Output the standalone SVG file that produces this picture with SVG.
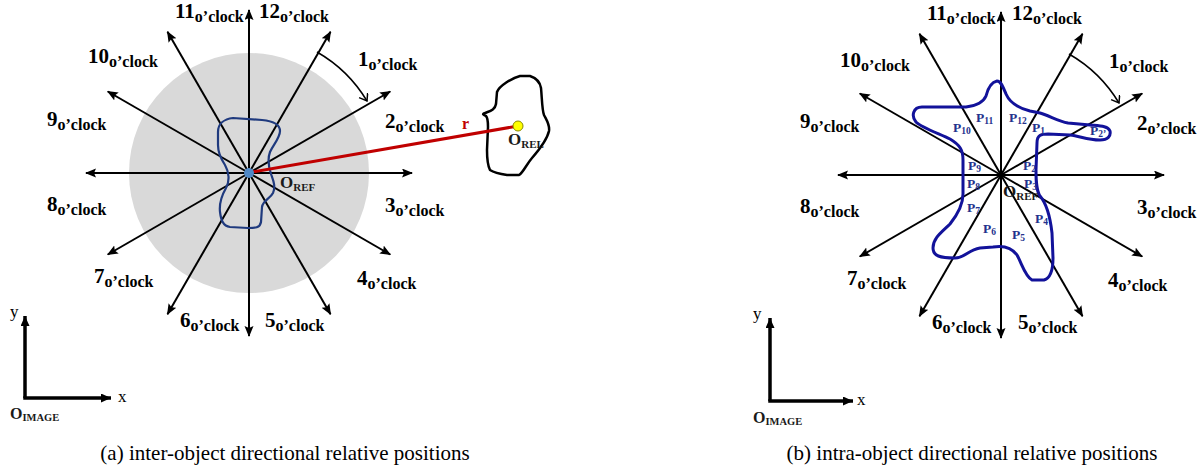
<svg xmlns="http://www.w3.org/2000/svg" width="1202" height="469" viewBox="0 0 1202 469">
<style>
.bg{fill:#ffffff}
.ray{stroke:#000;stroke-width:2;fill:none;marker-end:url(#ah)}
.arc{stroke:#000;stroke-width:1.5;fill:none;marker-end:url(#va)}
.axis{stroke:#000;stroke-width:3.5;fill:none;marker-end:url(#ax)}
.lbl{font-family:"Liberation Serif","Times New Roman",serif;font-weight:bold;fill:#000}
.n{font-size:21px}
.s{font-size:16px}
.pl{font-family:"Liberation Serif","Times New Roman",serif;font-weight:bold;fill:#24318c;font-size:13.5px}
.ps{font-size:9.5px}
.o{font-family:"Liberation Serif","Times New Roman",serif;font-weight:bold;fill:#1a1a1a}
.ob{font-size:17px}
.osub{font-size:11px}
.oi{font-size:16px}
.oisub{font-size:10.5px}
.ax{font-family:"Liberation Serif","Times New Roman",serif;font-size:17px;fill:#000}
.cap{font-family:"Liberation Serif","Times New Roman",serif;font-size:21px;fill:#000;text-anchor:middle}
</style>
<defs>
<marker id="ah" markerUnits="userSpaceOnUse" markerWidth="12" markerHeight="10" refX="10" refY="4.5" orient="auto"><path d="M0,0 L11,4.5 L0,9 L2,4.5 Z" fill="#000"/></marker>
<marker id="ax" markerUnits="userSpaceOnUse" markerWidth="12" markerHeight="10" refX="10" refY="4.5" orient="auto"><path d="M0,0 L10,4.5 L0,9 Z" fill="#000"/></marker>
<marker id="va" markerUnits="userSpaceOnUse" markerWidth="12" markerHeight="12" refX="7" refY="5" orient="auto"><path d="M0,0 L7,5 L0,10" fill="none" stroke="#000" stroke-width="1.5"/></marker>
</defs>
<rect class="bg" x="0" y="0" width="1202" height="469"/>

<!-- ===== Panel (a) ===== -->
<g id="panel-a-circle"><circle cx="249" cy="173" r="120" fill="#d9d9d9"/></g>
<g id="panel-a-connectors" transform="translate(249,173)">
<line class="ray" x1="0" y1="0" x2="0" y2="-163"/>
<line class="ray" x1="0" y1="0" x2="81.5" y2="-141.2"/>
<line class="ray" x1="0" y1="0" x2="141.2" y2="-81.5"/>
<line class="ray" x1="0" y1="0" x2="163" y2="0"/>
<line class="ray" x1="0" y1="0" x2="141.2" y2="81.5"/>
<line class="ray" x1="0" y1="0" x2="81.5" y2="141.2"/>
<line class="ray" x1="0" y1="0" x2="0" y2="163"/>
<line class="ray" x1="0" y1="0" x2="-81.5" y2="141.2"/>
<line class="ray" x1="0" y1="0" x2="-141.2" y2="81.5"/>
<line class="ray" x1="0" y1="0" x2="-163" y2="0"/>
<line class="ray" x1="0" y1="0" x2="-141.2" y2="-81.5"/>
<line class="ray" x1="0" y1="0" x2="-81.5" y2="-141.2"/>
</g>
<g id="panel-a-arc"><path class="arc" d="M317,52 A139,139 0 0,1 367,101"/></g>
<g id="panel-a-ref-object">
<path d="M218,132 C218,124 224,119 233,118 L262,120 C272,121 280,124 280,131 C280,138 273,145 270,152 C267,160 269,168 271,174 C273,180 276,186 273,193 C270,199 263,200 262,207 L261,222 C260,228 255,228 248,228 L230,227 C223,226 221,220 220,212 C219,203 222,195 226,188 C230,181 229,172 225,165 C221,159 218,152 218,145 Z" fill="none" stroke="#1f3a7e" stroke-width="2.2"/>
</g>
<g id="panel-a-rel-object">
<path d="M497,92 C499,86 512,78 520,76 L530,76 C536,78 540,82 541,88 C542,98 542,110 544,115 C547,121 550,125 549,131 C547,140 539,150 532,158 C526,165 523,173 519,175 L507,175 C500,174 493,172 490,170 C487,164 487,158 487,150 L488,127 C488,122 488,118 486,116 C483,115 482,114 485,113 C490,111 495,110 496,104 Z" fill="none" stroke="#000" stroke-width="2.5"/>
</g>
<g id="panel-a-r">
<line x1="252" y1="172" x2="518" y2="126" stroke="#c00000" stroke-width="3"/>
<text x="462" y="129" class="lbl" font-size="16" style="fill:#c00000">r</text>
</g>
<g id="panel-a-oref">
<circle cx="249" cy="173" r="5" fill="#4f88c6"/>
<text x="280" y="188" class="o"><tspan class="ob">O</tspan><tspan class="osub" dy="3">REF</tspan></text>
</g>
<g id="panel-a-orel">
<circle cx="518" cy="126" r="5" fill="#ffff00" stroke="#8a8a00" stroke-width="1"/>
<text x="508" y="145" class="o"><tspan class="ob">O</tspan><tspan class="osub" dy="3">REL</tspan></text>
</g>
<g id="panel-a-labels">
<text class="lbl" x="175" y="18"><tspan class="n">11</tspan><tspan class="s" dy="4">o’clock</tspan></text>
<text class="lbl" x="259" y="18"><tspan class="n">12</tspan><tspan class="s" dy="4">o’clock</tspan></text>
<text class="lbl" x="88" y="63"><tspan class="n">10</tspan><tspan class="s" dy="4">o’clock</tspan></text>
<text class="lbl" x="358" y="66"><tspan class="n">1</tspan><tspan class="s" dy="4">o’clock</tspan></text>
<text class="lbl" x="47" y="126"><tspan class="n">9</tspan><tspan class="s" dy="4">o’clock</tspan></text>
<text class="lbl" x="385" y="128"><tspan class="n">2</tspan><tspan class="s" dy="4">o’clock</tspan></text>
<text class="lbl" x="47" y="211"><tspan class="n">8</tspan><tspan class="s" dy="4">o’clock</tspan></text>
<text class="lbl" x="385" y="212"><tspan class="n">3</tspan><tspan class="s" dy="4">o’clock</tspan></text>
<text class="lbl" x="94" y="283"><tspan class="n">7</tspan><tspan class="s" dy="4">o’clock</tspan></text>
<text class="lbl" x="357" y="285"><tspan class="n">4</tspan><tspan class="s" dy="4">o’clock</tspan></text>
<text class="lbl" x="180" y="327"><tspan class="n">6</tspan><tspan class="s" dy="4">o’clock</tspan></text>
<text class="lbl" x="265" y="327"><tspan class="n">5</tspan><tspan class="s" dy="4">o’clock</tspan></text>
</g>
<g id="panel-a-axes">
<path class="axis" d="M25,398 L25,316"/>
<path class="axis" d="M23.25,398 L111,398"/>
<text class="ax" x="10" y="317">y</text>
<text class="ax" x="118" y="402">x</text>
<text class="o" x="10" y="419"><tspan class="oi">O</tspan><tspan class="oisub" dy="2">IMAGE</tspan></text>
</g>
<g id="caption-a"><text class="cap" x="285" y="460">(a) inter-object directional relative positions</text></g>

<!-- ===== Panel (b) ===== -->
<g id="panel-b-connectors" transform="translate(1001,175)">
<line class="ray" x1="0" y1="0" x2="0" y2="-163"/>
<line class="ray" x1="0" y1="0" x2="81.5" y2="-141.2"/>
<line class="ray" x1="0" y1="0" x2="141.2" y2="-81.5"/>
<line class="ray" x1="0" y1="0" x2="163" y2="0"/>
<line class="ray" x1="0" y1="0" x2="141.2" y2="81.5"/>
<line class="ray" x1="0" y1="0" x2="81.5" y2="141.2"/>
<line class="ray" x1="0" y1="0" x2="0" y2="163"/>
<line class="ray" x1="0" y1="0" x2="-81.5" y2="141.2"/>
<line class="ray" x1="0" y1="0" x2="-141.2" y2="81.5"/>
<line class="ray" x1="0" y1="0" x2="-163" y2="0"/>
<line class="ray" x1="0" y1="0" x2="-141.2" y2="-81.5"/>
<line class="ray" x1="0" y1="0" x2="-81.5" y2="-141.2"/>
</g>
<g id="panel-b-arc"><path class="arc" d="M1069,54 A139,139 0 0,1 1119,103"/></g>
<g id="panel-b-object">
<path d="M997,81 C992,82 988,88 986,96 C983,103 975,106 966,107 L922,107 C913,107 911,116 916,122 C922,128 940,134 950,139 C960,145 963,150 963,160 L963,194 C963,205 958,214 950,224 C942,232 933,238 933,248 C933,256 940,258 955,258 C965,258 968,250 980,248 L993,247 C1005,245 1012,248 1017,255 C1022,264 1025,276 1032,280 L1044,280 C1051,278 1053,270 1053,258 L1052,233 C1050,215 1046,203 1040,196 C1036,190 1036,180 1036,170 L1037,143 C1037,135 1041,134 1048,134 L1070,135 C1080,136 1087,140 1100,140 C1108,140 1111,136 1110,131 C1108,126 1100,126 1090,125 L1068,123 C1058,121 1050,116 1040,113 L1030,111 C1018,108 1010,103 1006,94 C1003,87 1001,81 997,81 Z" fill="none" stroke="#12129a" stroke-width="3"/>
</g>
<g id="panel-b-points">
<text class="pl" x="953" y="132">P<tspan class="ps" dy="2">10</tspan></text>
<text class="pl" x="976" y="122">P<tspan class="ps" dy="2">11</tspan></text>
<text class="pl" x="1009" y="122">P<tspan class="ps" dy="2">12</tspan></text>
<text class="pl" x="1032" y="132">P<tspan class="ps" dy="2">1</tspan></text>
<text class="pl" x="1090" y="135">P<tspan class="ps" dy="2">2’</tspan></text>
<text class="pl" x="968" y="170">P<tspan class="ps" dy="2">9</tspan></text>
<text class="pl" x="1023" y="170">P<tspan class="ps" dy="2">2</tspan></text>
<text class="pl" x="967" y="188">P<tspan class="ps" dy="2">8</tspan></text>
<text class="pl" x="1024" y="188">P<tspan class="ps" dy="2">3</tspan></text>
<text class="pl" x="967" y="212">P<tspan class="ps" dy="2">7</tspan></text>
<text class="pl" x="1035" y="223">P<tspan class="ps" dy="2">4</tspan></text>
<text class="pl" x="983" y="233">P<tspan class="ps" dy="2">6</tspan></text>
<text class="pl" x="1012" y="239">P<tspan class="ps" dy="2">5</tspan></text>
</g>
<g id="panel-b-oref">
<text x="1003" y="197" class="o"><tspan class="ob">O</tspan><tspan class="osub" dy="3">REF</tspan></text>
</g>
<g id="panel-b-labels">
<text class="lbl" x="927" y="20"><tspan class="n">11</tspan><tspan class="s" dy="4">o’clock</tspan></text>
<text class="lbl" x="1012" y="20"><tspan class="n">12</tspan><tspan class="s" dy="4">o’clock</tspan></text>
<text class="lbl" x="840" y="67"><tspan class="n">10</tspan><tspan class="s" dy="4">o’clock</tspan></text>
<text class="lbl" x="1109" y="68"><tspan class="n">1</tspan><tspan class="s" dy="4">o’clock</tspan></text>
<text class="lbl" x="800" y="128"><tspan class="n">9</tspan><tspan class="s" dy="4">o’clock</tspan></text>
<text class="lbl" x="1137" y="130"><tspan class="n">2</tspan><tspan class="s" dy="4">o’clock</tspan></text>
<text class="lbl" x="800" y="213"><tspan class="n">8</tspan><tspan class="s" dy="4">o’clock</tspan></text>
<text class="lbl" x="1137" y="214"><tspan class="n">3</tspan><tspan class="s" dy="4">o’clock</tspan></text>
<text class="lbl" x="847" y="285"><tspan class="n">7</tspan><tspan class="s" dy="4">o’clock</tspan></text>
<text class="lbl" x="1108" y="287"><tspan class="n">4</tspan><tspan class="s" dy="4">o’clock</tspan></text>
<text class="lbl" x="932" y="329"><tspan class="n">6</tspan><tspan class="s" dy="4">o’clock</tspan></text>
<text class="lbl" x="1018" y="329"><tspan class="n">5</tspan><tspan class="s" dy="4">o’clock</tspan></text>
</g>
<g id="panel-b-axes">
<path class="axis" d="M770,401 L770,318"/>
<path class="axis" d="M768.25,401 L853,401"/>
<text class="ax" x="753" y="319">y</text>
<text class="ax" x="857" y="405">x</text>
<text class="o" x="753" y="423"><tspan class="oi">O</tspan><tspan class="oisub" dy="2">IMAGE</tspan></text>
</g>
<g id="caption-b"><text class="cap" x="972" y="460">(b) intra-object directional relative positions</text></g>
</svg>
